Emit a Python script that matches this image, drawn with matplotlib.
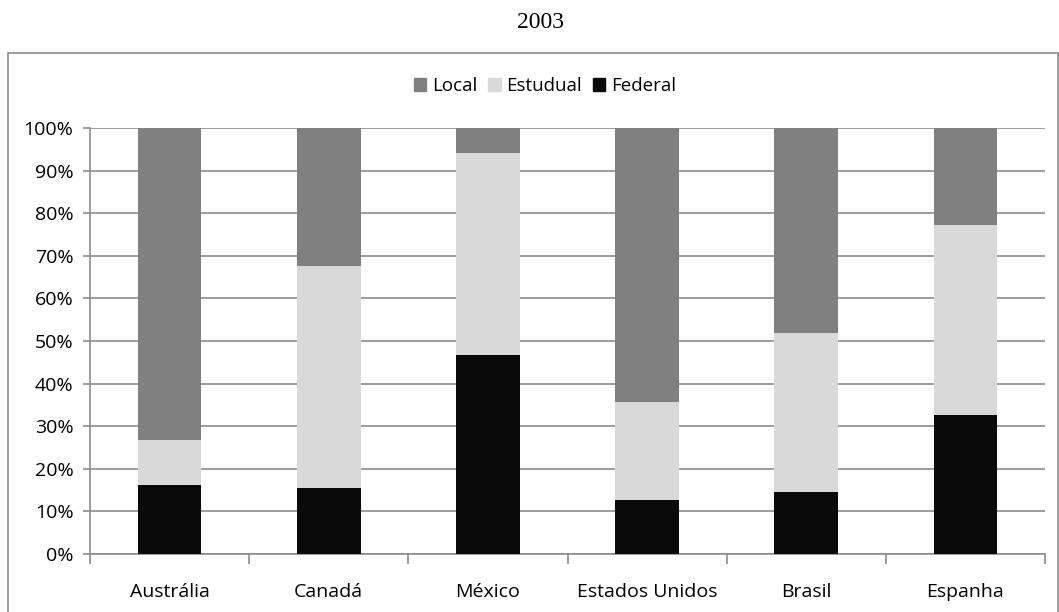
import matplotlib
matplotlib.use("Agg")
import matplotlib.pyplot as plt
from matplotlib.patches import Rectangle, Patch
from matplotlib.ticker import FixedLocator, PercentFormatter
import numpy as np

W, H = 1059, 612

countries = ["Austrália", "Canadá", "México", "Estados Unidos", "Brasil", "Espanha"]
federal = [16.1, 15.4, 46.7, 12.6, 14.6, 32.6]
estadual = [10.7, 52.2, 47.5, 23.1, 37.3, 44.7]
local = [73.2, 32.4, 5.8, 64.3, 48.1, 22.7]

COL_LOCAL = "#808080"
COL_EST = "#d9d9d9"
COL_FED = "#0a0a0a"
GRID = "#8c8c8c"

plt.rcParams["font.family"] = ["Open Sans", "DejaVu Sans"]

fig = plt.figure(figsize=(W / 100, H / 100), dpi=100)

# outer chart frame
fig.patches.append(Rectangle((8 / W, -0.01), (1058 - 8) / W, (612 - 53) / H + 0.01,
                             transform=fig.transFigure, fill=False,
                             edgecolor="#8c8c8c", linewidth=1.2))

fig.text(540 / W, 1 - 22 / H, "2003", ha="center", va="center",
         fontsize=17, family="Liberation Serif")

ax = fig.add_axes([90 / W, (H - 554) / H, (1045 - 90) / W, (554 - 128) / H])

x = np.arange(len(countries))
fed = np.array(federal)
est = np.array(estadual)
loc = np.array(local)

ax.bar(x, fed, width=0.4, color=COL_FED, zorder=3)
ax.bar(x, est, width=0.4, bottom=fed, color=COL_EST, zorder=3)
ax.bar(x, loc, width=0.4, bottom=fed + est, color=COL_LOCAL, zorder=3)

ax.set_xlim(-0.5, len(countries) - 0.5)
ax.set_ylim(0, 100)
ax.set_yticks(np.arange(0, 101, 10))
ax.yaxis.set_major_formatter(PercentFormatter(decimals=0))
ax.yaxis.grid(True, color=GRID, linewidth=1.2, zorder=0)

ax.set_xticks(x)
ax.set_xticklabels(countries)
ax.xaxis.set_minor_locator(FixedLocator(np.arange(-0.5, len(countries), 1.0)))
ax.tick_params(axis="x", which="major", length=0, pad=21, labelsize=14)
ax.tick_params(axis="x", which="minor", length=7, color=GRID, width=1.2)
ax.tick_params(axis="y", length=5, color=GRID, width=1.2, pad=7, labelsize=14)

for side in ["top", "right"]:
    ax.spines[side].set_visible(False)
for side in ["left", "bottom"]:
    ax.spines[side].set_color(GRID)
    ax.spines[side].set_linewidth(1.2)

handles = [Patch(color=COL_LOCAL, label="Local"),
           Patch(color=COL_EST, label="Estudual"),
           Patch(color=COL_FED, label="Federal")]
fig.legend(handles=handles, loc="center", bbox_to_anchor=(545 / W, 1 - 86 / H),
           ncol=3, frameon=False, fontsize=13.5, handlelength=0.65, handleheight=0.65,
           handletextpad=0.3, columnspacing=0.6)

fig.savefig("out.png", dpi=100)
